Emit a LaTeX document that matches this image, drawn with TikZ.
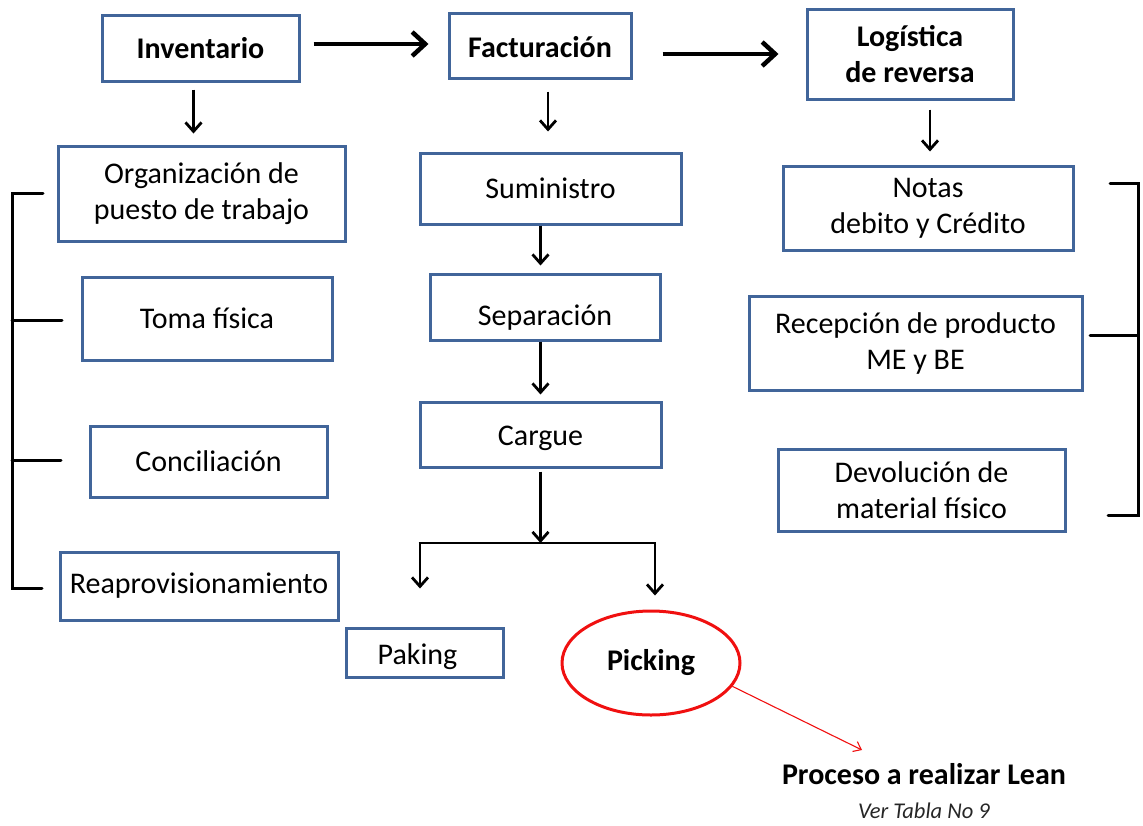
\documentclass[tikz,border=0pt]{standalone}
\usepackage{fontspec}
\setmainfont{Carlito}
\usetikzlibrary{arrows.meta,shapes.geometric,calc}
\definecolor{boxblue}{HTML}{41659A}
\definecolor{redline}{HTML}{F01010}
\newcommand{\lowertxt}[2]{\raisebox{-#1}[\height][\depth]{#2}}
\begin{document}
\begin{tikzpicture}[x=1pt,y=-1pt,
  box/.style={draw=boxblue,line width=3pt,align=center,inner sep=0pt,
    font=\fontsize{30}{36}\selectfont},
  bigarrow/.style={line width=4.5pt,-{Straight Barb[length=13pt,width=24pt]}},
  smallarrow/.style={line width=2.8pt,-{Straight Barb[length=9pt,width=16pt]}},
  bracketline/.style={line width=3pt,line cap=round,line join=miter},
  redarrow/.style={draw=redline,line width=1.1pt,-{Straight Barb[length=7pt,width=11pt]}}
]
\useasboundingbox (0,0) rectangle (1143,825);

% top row
\node[box,minimum width=197pt,minimum height=66pt] (inv) at (200.5,48) {\textbf{Inventario}};
\node[box,minimum width=182pt,minimum height=65pt] (fac) at (540,45.5) {\lowertxt{2pt}{\textbf{Facturación}}};
\node[box,minimum width=206pt,minimum height=90pt] (log) at (910,54) {\textbf{Logística}\\\textbf{de reversa}};

% left column
\node[box,minimum width=287pt,minimum height=95pt] (org) at (201.5,193.5) {Organización de\\puesto de trabajo};
\node[box,minimum width=250pt,minimum height=83pt] (tom) at (207,318.5) {Toma física};
\node[box,minimum width=237pt,minimum height=71pt] (con) at (208.5,461.5) {Conciliación};
\node[box,minimum width=278pt,minimum height=68pt] (rea) at (199,586) {Reaprovisionamiento};

% middle column
\node[box,minimum width=261pt,minimum height=71pt] (sum) at (550.5,188.5) {Suministro};
\node[box,minimum width=230pt,minimum height=66pt] (sep) at (545,307) {\lowertxt{11pt}{Separación}};
\node[box,minimum width=241pt,minimum height=65pt] (car) at (540.5,434.5) {\lowertxt{4pt}{Cargue}};
\node[box,minimum width=157pt,minimum height=49pt] (pak) at (424.5,652.5) {\lowertxt{4pt}{Paking}\hspace*{14pt}};
\node[ellipse,draw=redline,line width=3pt,minimum width=178pt,minimum height=104pt,inner sep=0pt,
  font=\fontsize{30}{36}\selectfont] (pic) at (651,663) {\textbf{Picking}};

% right column
\node[box,minimum width=290pt,minimum height=84pt] (not) at (928,208) {Notas\\debito y Crédito};
\node[box,minimum width=333pt,minimum height=94pt] (rec) at (915.5,343) {Recepción de producto\\ME y BE};
\node[box,minimum width=287pt,minimum height=82pt] (dev) at (921.5,490) {Devolución de\\material físico};

% labels
\node[font=\fontsize{30}{36}\selectfont\bfseries,inner sep=0pt] (lean) at (924,774) {Proceso a realizar Lean};
\node[font=\fontsize{22.5}{26}\selectfont\itshape,inner sep=0pt,text=black!85] (tabla) at (924,811) {Ver Tabla No 9};

% top arrows
\draw[bigarrow,shorten <=13pt,shorten >=19pt] ([yshift=4pt]inv.east) -- ([yshift=4pt]inv.east -| fac.west);
\draw[bigarrow,shorten <=30pt,shorten >=27pt] (fac.east |- log.west) -- (log.west);

% down arrows
\draw[smallarrow,shorten <=7pt,shorten >=11pt] ([xshift=-7pt]inv.south) -- ([xshift=-7pt]inv.south |- org.north);
\draw[smallarrow,shorten <=12pt,shorten >=20pt] ([xshift=8pt]fac.south) -- ([xshift=8pt]fac.south |- sum.north);
\draw[smallarrow,shorten <=9pt,shorten >=13pt] ([xshift=20pt]log.south) -- ([xshift=20pt]log.south |- not.north);
\draw[smallarrow,shorten >=7pt] (sum.south -| car.north) -- (sep.north -| car.north);
\draw[smallarrow,shorten >=6pt] (sep.south -| car.north) -- (car.north);

% split
\coordinate (sl) at (420,543);
\coordinate (sr) at (655,543);
\draw[smallarrow,shorten <=3pt] (car.south) -- (car.south |- sl);
\draw[line width=2.8pt] ([xshift=-1.4pt]sl) -- ([xshift=1.4pt]sr);
\draw[smallarrow] (sl) -- ([yshift=38pt]sl |- pak.north);
\draw[smallarrow] (sr) -- ([yshift=14pt]sr |- pic.north);

% red arrow
\coordinate (rtip) at (862,750);
\draw[redarrow] (pic.-16) -- (rtip);

% left bracket
\draw[bracketline] (43,193) -- (12,193) -- (12,588) -- (42,588);
\draw[bracketline] (12,320) -- (62,320);
\draw[bracketline] (12,460) -- (61,460);

% right bracket
\draw[bracketline] (1110,183) -- (1138,183) -- (1138,515) -- (1108,515);
\draw[bracketline] (1090,335) -- (1138,335);
\end{tikzpicture}
\end{document}
